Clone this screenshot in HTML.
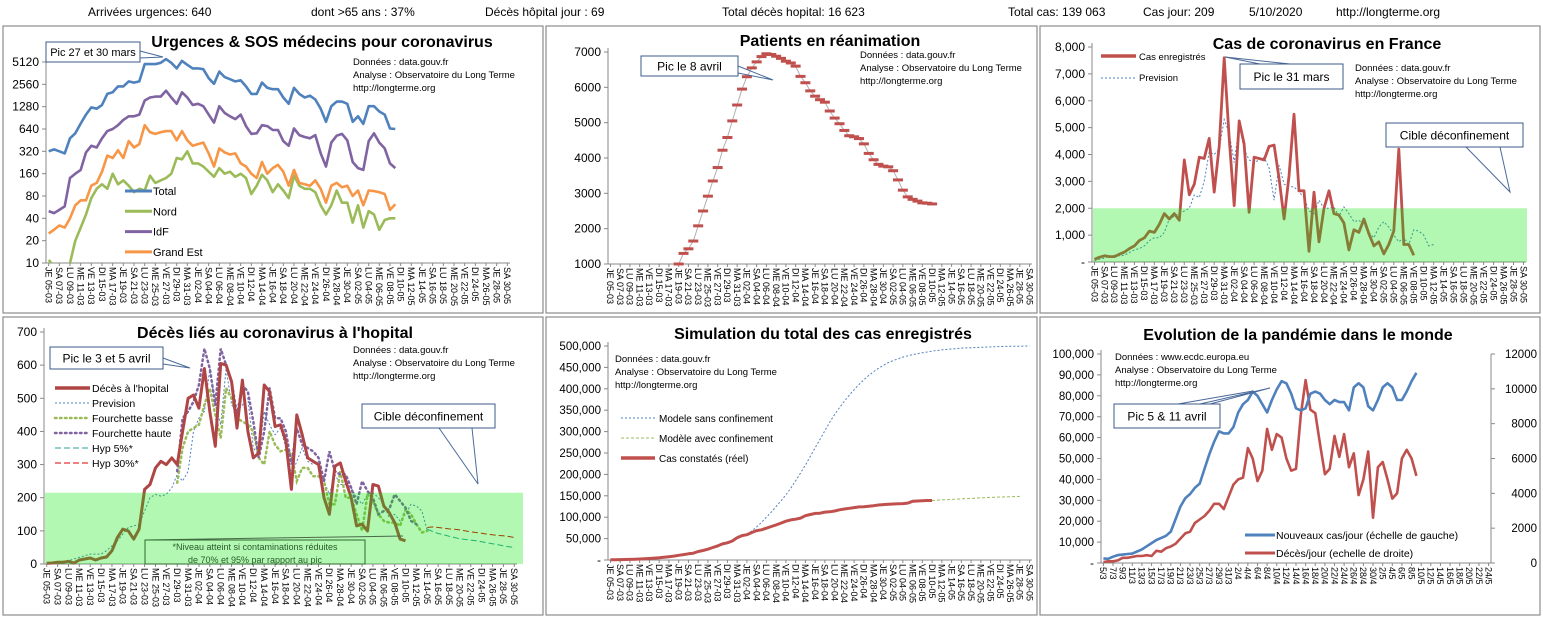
<!DOCTYPE html>
<html><head><meta charset="utf-8">
<style>
html,body{margin:0;padding:0;background:#fff;}
svg{display:block;font-family:"Liberation Sans",sans-serif;}
</style></head>
<body>
<svg id="chart" width="1543" height="621" viewBox="0 0 1543 621" xmlns="http://www.w3.org/2000/svg">
<g font-size="12" fill="#000">
<text x="88" y="16">Arrivées urgences:  640</text>
<text x="311" y="16">dont &gt;65 ans :  37%</text>
<text x="485" y="16">Décès hôpital jour :  69</text>
<text x="722" y="16">Total décès hopital:  16 623</text>
<text x="1008" y="16">Total cas:  139 063</text>
<text x="1143" y="16">Cas jour:  209</text>
<text x="1249" y="16">5/10/2020</text>
<text x="1336" y="16">http://longterme.org</text>
</g>
</svg>
<script>
// ---------- DATA ----------
const urgTotal=[320,340,320,300,480,560,760,1000,1250,1200,1350,1900,2000,2400,2400,2800,2700,2800,4800,4800,4800,5000,5600,5000,4200,5300,4700,4200,4200,4100,3100,2600,3800,3200,3000,2800,2900,2400,1900,1900,2700,2300,2200,2200,1700,1400,2300,1900,1700,1800,1600,1200,800,1300,1500,1500,1400,800,950,750,1300,1300,1100,1000,650,640];
const urgIdf=[50,47,52,58,140,160,180,310,380,360,480,600,640,720,850,950,950,1000,1550,1700,1750,1750,2100,1700,1400,2000,1700,1350,1400,1300,1000,780,1300,1050,950,870,1000,700,550,560,720,700,620,620,440,380,650,530,500,480,530,300,200,420,520,550,450,230,190,180,440,560,420,350,220,190];
const urgGrandEst=[25,28,32,30,40,60,70,70,110,120,170,280,260,330,260,440,360,400,720,580,550,580,600,600,450,600,450,380,400,420,300,200,350,310,290,300,220,200,160,140,230,160,190,210,170,110,180,120,115,110,130,100,65,110,120,105,110,80,95,60,95,93,90,85,52,62];
const urgNord=[11,9,5,3,10,20,30,45,75,100,115,100,160,115,130,110,90,100,95,150,120,130,140,160,260,250,320,220,220,200,170,145,190,160,170,145,160,140,85,110,155,130,90,115,95,75,150,110,100,100,90,60,45,60,95,65,65,35,60,30,50,45,28,38,40,40];
const urgTicks=[10,20,40,80,160,320,640,1280,2560,5120];

const reaStart=14;
const reaValues=[1000,1300,1430,1650,2080,2500,2920,3350,3730,4220,4580,5050,5500,5950,6300,6550,6720,6870,6950,6930,6880,6820,6740,6690,6600,6310,6130,5900,5750,5650,5580,5330,5130,4970,4780,4630,4600,4550,4400,4130,3950,3820,3770,3750,3640,3380,3090,2900,2830,2780,2730,2720,2700];
const reaTicks=[1000,2000,3000,4000,5000,6000,7000];

const casValues=[100,180,230,200,200,290,370,500,600,800,900,1150,1100,1400,1800,1600,1800,1550,3800,2500,2900,3900,3850,4600,2600,4300,7600,4600,2100,5250,4400,1850,3900,3850,3800,4300,4350,3100,1600,3200,5500,2650,2650,400,2600,750,2000,2650,1800,1750,1450,450,1200,1100,1600,1050,600,750,300,650,1150,4200,650,650,250];
const casPrevision=[50,100,150,200,250,230,250,350,450,500,600,800,900,900,1100,1600,1700,1800,1900,2000,2500,2400,3000,4100,4000,4200,5300,4800,3700,5100,4200,3800,3700,3800,3900,3500,2300,3600,2900,2800,2800,2600,2400,1900,1800,2300,2000,2000,2050,1700,2050,1800,1500,1550,1400,1100,900,1300,1500,1300,1000,750,900,650,1200,1150,1000,600,650];
const casTicks=[0,1000,2000,3000,4000,5000,6000,7000,8000];
const casTarget=[2000];

const decesValues=[2,3,5,5,8,3,12,15,18,12,18,21,40,80,105,100,75,105,225,240,290,310,300,320,300,400,500,510,470,590,460,355,605,600,550,410,555,400,320,335,540,520,415,420,370,225,450,390,320,310,300,200,150,295,305,250,200,115,120,100,240,235,175,155,125,75,70];
const decesPrevision=[0,3,5,8,10,15,20,25,30,30,30,40,55,70,90,110,115,120,160,200,210,205,210,230,270,250,280,400,440,460,590,480,420,590,480,460,480,500,350,330,460,420,390,410,350,270,310,350,310,300,310,250,210,270,240,240,230,200,180,210,215,200,180,140,150,130,150,180,175,160,100];
const fourchetteStart=24;
const fourchetteBasse=[245,350,400,410,420,480,530,450,380,530,500,440,430,420,400,320,300,400,360,340,345,330,250,290,290,265,265,250,180,180,280,200,200,150,100,210,190,150,130,125,125,115,165,150,120,95,100];
const fourchetteHaute=[280,440,460,490,540,650,590,480,650,600,550,450,540,520,430,320,400,530,440,440,400,300,410,360,350,340,320,250,340,280,270,270,230,180,250,220,200,150,160,165,210,190,170,130,120];
const hypStart=70;
const hyp5=[105,98,92,88,84,80,76,74,72,70,67,64,61,58,55,52,50];
const hyp30=[110,112,110,108,106,105,103,100,97,95,93,90,88,86,85,83,80];
const decesTicks=[0,100,200,300,400,500,600,700];
const decesTarget=[215];

const simReel=[400,600,900,1200,1400,1800,2300,2900,3600,4500,5400,6600,7700,9100,10900,12600,14500,16000,19900,22300,25200,29100,32900,37600,40200,44500,52100,56900,59100,64300,68600,70500,74400,78200,82000,86300,90600,93800,95400,98000,103600,106200,108800,109300,111800,112700,114600,117300,119200,120800,122500,124100,124600,125800,126800,128400,129500,130100,130900,131200,131800,132900,137200,137800,138400,139000,139100];
const simSansStart=28;
const simSans=[60000,68000,77000,88000,100000,112000,125000,138000,152000,168000,185000,203000,222000,242000,262000,282000,302000,322000,340000,356000,371000,385000,398000,410000,421000,431000,440000,448000,455000,461000,466000,470000,474000,477000,480000,482000,484000,486000,488000,489500,491000,492000,493000,494000,495000,495500,496000,496500,497000,497500,498000,498300,498600,499000,499200,499400,499600,499800,499900];
const simAvecStart=66;
const simAvec=[139100,139800,140500,141000,141600,142200,142800,143400,144000,144600,145200,145700,146200,146700,147100,147500,147900,148200,148500];
const simTicks=[0,50000,100000,150000,200000,250000,300000,350000,400000,450000,500000];

const mondeCas=[2200,2000,3000,3800,4000,4300,4500,5500,6500,8000,9500,11000,12000,13000,15000,21000,27000,31000,33000,36000,38000,45000,52000,58000,63000,62000,62000,65000,72000,76000,78000,82000,80000,76000,72000,78000,83000,87000,86000,81000,74000,73000,74000,81000,82000,81000,78000,76000,78000,77000,77000,73000,84000,86000,84000,75000,73000,78000,84000,86000,84000,78000,78000,82000,87000,91000];
const mondeDeces=[60,100,100,150,300,300,350,400,400,450,400,700,650,850,950,1100,1400,1700,1800,2300,2500,2700,3000,3400,3400,3100,3800,4500,4800,4900,6600,6000,4700,5300,7700,6500,7400,7200,6000,5300,5400,8500,10500,8800,8600,6800,5100,5400,7300,6100,7400,5500,6300,3900,4800,6400,2600,5500,5800,4800,3700,4000,6000,6500,6000,5000];
const mondeLeftTicks=[0,10000,20000,30000,40000,50000,60000,70000,80000,90000,100000];
const mondeRightTicks=[0,2000,4000,6000,8000,10000,12000];

// ---------- HELPERS ----------
const NS='http://www.w3.org/2000/svg';
const S=document.getElementById('chart');
function mk(tag,attrs,name,parent){
  const e=document.createElementNS(NS,tag);
  for(const k in attrs) e.setAttribute(k,attrs[k]);
  
  
  (parent||S).appendChild(e);
  return e;
}
function txt(x,y,s,attrs,name,parent){
  const e=mk('text',Object.assign({x:x,y:y},attrs||{}),name,parent);
  e.textContent=s;
  return e;
}
const DAYS=['JE','VE','SA','DI','LU','MA','ME'];
function dateLabel(i){
  const d=new Date(2020,2,5+i);
  const dd=String(d.getDate()).padStart(2,'0'), mm=String(d.getMonth()+1).padStart(2,'0');
  return DAYS[i%7]+' '+dd+'-'+mm;
}
function shortLabel(i){const d=new Date(2020,2,5+i);return d.getDate()+'/'+(d.getMonth()+1);}
function fmt(v){return v===0?'-':v.toLocaleString('en-US');}
function X(c,i){return c.x0+(i+0.5)*(c.x1-c.x0)/c.n;}
function Y(c,v){return c.log? c.yb-Math.log2(v/c.min)/Math.log2(c.max/c.min)*(c.yb-c.yt) : c.yb-(v-c.min)/(c.max-c.min)*(c.yb-c.yt);}
function pts(c,arr,start,yf){return arr.map((v,k)=>X(c,start+k).toFixed(1)+','+(yf||((v)=>Y(c,v)))(v).toFixed(1)).join(' ');}
function panel(x,y,w,h,name){mk('rect',{x:x,y:y,width:w,height:h,fill:'#fff',stroke:'#8c8c8c','stroke-width':1.2},name);}
function axes(c,g,ticks,labelFn,xlabFn,step,tickFont,right){
  mk('line',{x1:c.x0,y1:c.yt-4,x2:c.x0,y2:c.yb,stroke:'#888'},'y-axis-line',g);
  mk('line',{x1:c.x0,y1:c.yb,x2:c.x1,y2:c.yb,stroke:'#888'},'x-axis-line',g);
  ticks.forEach(t=>{const y=Y(c,t);
    mk('line',{x1:c.x0-4,y1:y,x2:c.x0,y2:y,stroke:'#888'},'y-tick',g);
    txt(c.x0-7,y+4,labelFn(t),{'font-size':tickFont||11,'text-anchor':'end'},'y-tick-label',g);});
  for(let i=0;i<c.n;i+=step){const x=X(c,i);
    mk('line',{x1:x,y1:c.yb,x2:x,y2:c.yb+3,stroke:'#888'},'x-tick',g);
    txt(0,0,xlabFn(i),{'font-size':9,transform:'translate('+(x-3.2).toFixed(1)+','+(c.yb+4)+') rotate(90)'},'x-tick-label',g);}
}
function title(x,y,s,g){txt(x,y,s,{'font-size':16,'font-weight':'bold','text-anchor':'middle'},'chart-title',g);}
function credits(x,y,lines,g){lines.forEach((l,k)=>txt(x,y+k*13,l,{'font-size':9.5},'data-source-note',g));}
function callout(bx,by,bw,bh,s,fs,px,py,ax,ay,bx2,by2,g){
  mk('polyline',{points:ax+','+ay+' '+px+','+py+' '+bx2+','+by2,fill:'none',stroke:'#4a6a9a','stroke-width':1},'callout-pointer',g);
  mk('rect',{x:bx,y:by,width:bw,height:bh,fill:'#fff',stroke:'#3c5a8a','stroke-width':1},'callout-box',g);
  txt(bx+bw/2,by+bh/2+fs*0.36,s,{'font-size':fs,'text-anchor':'middle'},'callout-text',g);
}
const BLUE='#4f81bd',RED='#c0504d',GREEN='#9bbb59',PURPLE='#8064a2',ORANGE='#f79646';
const BAND='rgba(0,230,0,0.3)';
const CREDITS=['Données : data.gouv.fr','Analyse : Observatoire du Long Terme','http://longterme.org'];

// ---------- CHART 1: Urgences ----------
panel(3,26,540,287,'panel-urgences');
const g1=mk('g',{},'chart-urgences');
const c1={x0:46,x1:510,yt:62,yb:263,n:87,log:true,min:10,max:5120};
axes(c1,g1,urgTicks,t=>String(t),dateLabel,2,12);
mk('clipPath',{id:'clip1'},'clip-urgences',g1);
mk('rect',{x:c1.x0,y:c1.yt-10,width:c1.x1-c1.x0,height:c1.yb-c1.yt+10},'clip-rect',document.getElementById('clip1'));
[[urgTotal,BLUE,'line-total'],[urgNord,GREEN,'line-nord'],[urgIdf,PURPLE,'line-idf'],[urgGrandEst,ORANGE,'line-grand-est']].forEach(s=>{
  mk('polyline',{points:pts(c1,s[0],0),fill:'none',stroke:s[1],'stroke-width':2.6,'stroke-linejoin':'round','clip-path':'url(#clip1)'},s[2],g1);});
title(322,47,'Urgences & SOS médecins pour coronavirus',g1);
credits(353,65,CREDITS,g1);
[['Total',BLUE],['Nord',GREEN],['IdF',PURPLE],['Grand Est',ORANGE]].forEach((l,k)=>{
  const y=191+k*20.3;
  mk('line',{x1:125,y1:y,x2:152,y2:y,stroke:l[1],'stroke-width':3},'legend-swatch',g1);
  txt(153,y+4,l[0],{'font-size':11},'legend-entry',g1);});
callout(46,42,94,20,'Pic 27 et 30 mars',11,163,57,140,51,140,58,g1);

// ---------- CHART 2: Réanimation ----------
panel(546,26,491,287,'panel-reanimation');
const g2=mk('g',{},'chart-reanimation');
const c2={x0:608,x1:1032,yt:52,yb:264,n:87,min:1000,max:7000};
axes(c2,g2,reaTicks,t=>String(t),dateLabel,2,12);
mk('polyline',{points:pts(c2,reaValues,reaStart),fill:'none',stroke:'#b0b0b0','stroke-width':1},'line-reanimation',g2);
reaValues.forEach((v,k)=>{mk('rect',{x:X(c2,reaStart+k)-5,y:Y(c2,v)-1.5,width:10,height:3,fill:RED},'marker-reanimation',g2);});
title(830,46,'Patients en réanimation',g2);
credits(860,58,CREDITS,g2);
callout(641,56,97,20,'Pic le 8 avril',12,773,80,738,66,738,73,g2);

// ---------- CHART 3: Cas France ----------
panel(1040,26,500,287,'panel-cas-france');
const g3=mk('g',{},'chart-cas-france');
const c3={x0:1092,x1:1526,yt:47,yb:262,n:87,min:0,max:8000};
axes(c3,g3,casTicks,fmt,dateLabel,2,12);
mk('polyline',{points:pts(c3,casPrevision,0),fill:'none',stroke:BLUE,'stroke-width':1,'stroke-dasharray':'2,2'},'line-prevision',g3);
mk('polyline',{points:pts(c3,casValues,0),fill:'none',stroke:RED,'stroke-width':2.8,'stroke-linejoin':'round'},'line-cas-enregistres',g3);
mk('rect',{x:c3.x0+1,y:Y(c3,casTarget[0]),width:c3.x1-c3.x0,height:c3.yb-Y(c3,casTarget[0]),fill:BAND},'target-band',g3);
title(1327,49,'Cas de coronavirus en France',g3);
credits(1355,71,CREDITS,g3);
mk('line',{x1:1101,y1:56,x2:1136,y2:56,stroke:RED,'stroke-width':3.5},'legend-swatch',g3);
txt(1139,60,'Cas enregistrés',{'font-size':9.5},'legend-entry',g3);
mk('line',{x1:1101,y1:78,x2:1136,y2:78,stroke:BLUE,'stroke-width':1,'stroke-dasharray':'2,2'},'legend-swatch',g3);
txt(1139,81,'Prevision',{'font-size':9.5},'legend-entry',g3);
callout(1240,64,103,25,'Pic le 31  mars',12,1225,57,1290,64,1260,64,g3);
callout(1386,123,137,24,'Cible déconfinement',12,1510,192,1466,147,1500,147,g3);

// ---------- CHART 4: Décès ----------
panel(3,317,540,298,'panel-deces');
const g4=mk('g',{},'chart-deces');
const c4={x0:44,x1:517,yt:332,yb:564,n:87,min:0,max:700};
axes(c4,g4,decesTicks,t=>String(t),dateLabel,2,12);
mk('polyline',{points:pts(c4,decesPrevision,0),fill:'none',stroke:BLUE,'stroke-width':1,'stroke-dasharray':'2,2'},'line-prevision',g4);
mk('polyline',{points:pts(c4,fourchetteBasse,fourchetteStart),fill:'none',stroke:GREEN,'stroke-width':2.5,'stroke-dasharray':'1.5,3.5','stroke-linecap':'round'},'line-fourchette-basse',g4);
mk('polyline',{points:pts(c4,fourchetteHaute,fourchetteStart),fill:'none',stroke:PURPLE,'stroke-width':2.5,'stroke-dasharray':'1.5,3.5','stroke-linecap':'round'},'line-fourchette-haute',g4);
mk('polyline',{points:pts(c4,hyp5,hypStart),fill:'none',stroke:'#2aa0a0','stroke-width':1,'stroke-dasharray':'6,3'},'line-hyp-5',g4);
mk('polyline',{points:pts(c4,hyp30,hypStart),fill:'none',stroke:'#e00000','stroke-width':1,'stroke-dasharray':'6,3'},'line-hyp-30',g4);
mk('polyline',{points:pts(c4,decesValues,0),fill:'none',stroke:'#b04545','stroke-width':3,'stroke-linejoin':'round'},'line-deces-hopital',g4);
mk('rect',{x:c4.x0+1,y:Y(c4,decesTarget[0]),width:c4.x1-c4.x0+5,height:c4.yb-Y(c4,decesTarget[0]),fill:BAND},'target-band',g4);
title(275,338,'Décès liés au coronavirus à l\'hopital',g4);
credits(353,353,CREDITS,g4);
[['Décès à l\'hopital','#b04545',3.5,''],['Prevision',BLUE,1,'2,2'],['Fourchette basse',GREEN,2.5,'1.5,3.5'],['Fourchette haute',PURPLE,2.5,'1.5,3.5'],['Hyp 5%*','#2aa0a0',1,'6,3'],['Hyp 30%*','#e00000',1,'6,3']].forEach((l,k)=>{
  const y=388+k*15;
  mk('line',{x1:55,y1:y,x2:90,y2:y,stroke:l[1],'stroke-width':l[2],'stroke-dasharray':l[3]||'none','stroke-linecap':l[3]==='1.5,3.5'?'round':'butt'},'legend-swatch',g4);
  txt(92,y+4,l[0],{'font-size':10.5},'legend-entry',g4);});
callout(50,347,113,22,'Pic le 3 et 5 avril',12,190,368,163,358,163,364,g4);
callout(362,404,133,24,'Cible déconfinement',12,478,484,439,428,472,428,g4);
mk('line',{x1:145,y1:540,x2:403,y2:536,stroke:'#4a6a4a','stroke-width':1},'footnote-pointer',g4);
mk('rect',{x:145,y:540,width:220,height:24,fill:'none',stroke:'#2f6a2f','stroke-width':1},'footnote-box',g4);
txt(255,550,'*Niveau atteint si contaminations réduites',{'font-size':9,'text-anchor':'middle',fill:'#2a5a2a'},'footnote-text',g4);
txt(255,563,'de 70% et 95% par rapport au pic',{'font-size':9,'text-anchor':'middle',fill:'#2a5a2a'},'footnote-text',g4);

// ---------- CHART 5: Simulation ----------
panel(546,317,491,298,'panel-simulation');
const g5=mk('g',{},'chart-simulation');
const c5={x0:608,x1:1032,yt:346,yb:560,n:87,min:0,max:500000};
axes(c5,g5,simTicks,fmt,dateLabel,2,11.5);
mk('polyline',{points:pts(c5,simSans,simSansStart),fill:'none',stroke:BLUE,'stroke-width':1,'stroke-dasharray':'2,2'},'line-modele-sans-confinement',g5);
mk('polyline',{points:pts(c5,simAvec,simAvecStart),fill:'none',stroke:GREEN,'stroke-width':1,'stroke-dasharray':'3,2'},'line-modele-avec-confinement',g5);
mk('polyline',{points:pts(c5,simReel,0),fill:'none',stroke:RED,'stroke-width':3,'stroke-linejoin':'round'},'line-cas-constates',g5);
title(823,339,'Simulation du total des cas enregistrés',g5);
credits(615,362,CREDITS,g5);
[['Modele sans confinement',BLUE,1,'2,2'],['Modèle avec confinement',GREEN,1,'3,2'],['Cas constatés (réel)',RED,3.5,'']].forEach((l,k)=>{
  const y=418+k*20;
  mk('line',{x1:621,y1:y,x2:655,y2:y,stroke:l[1],'stroke-width':l[2],'stroke-dasharray':l[3]||'none'},'legend-swatch',g5);
  txt(659,y+4,l[0],{'font-size':10},'legend-entry',g5);});

// ---------- CHART 6: Monde ----------
panel(1040,317,500,298,'panel-monde');
const g6=mk('g',{},'chart-monde');
const c6={x0:1101,x1:1491,yt:354,yb:563,n:81,min:0,max:100000};
const c6r={x0:1101,x1:1491,yt:354,yb:563,n:81,min:0,max:12000};
axes(c6,g6,mondeLeftTicks,fmt,shortLabel,2,11.5);
mk('line',{x1:c6.x1,y1:c6.yt,x2:c6.x1,y2:c6.yb,stroke:'#888'},'y-axis-right-line',g6);
mondeRightTicks.forEach(t=>{const y=Y(c6r,t);
  mk('line',{x1:c6.x1,y1:y,x2:c6.x1+4,y2:y,stroke:'#888'},'y-right-tick',g6);
  txt(1537,y+4,String(t),{'font-size':11.5,'text-anchor':'end'},'y-right-tick-label',g6);});
mk('polyline',{points:pts(c6r,mondeDeces,0),fill:'none',stroke:RED,'stroke-width':2.6,'stroke-linejoin':'round'},'line-deces-jour',g6);
mk('polyline',{points:pts(c6,mondeCas,0),fill:'none',stroke:BLUE,'stroke-width':2.6,'stroke-linejoin':'round'},'line-nouveaux-cas',g6);
title(1298,340,'Evolution de la pandémie dans le monde',g6);
credits(1115,360,['Données : www.ecdc.europa.eu','Analyse : Observatoire du Long Terme','http://longterme.org'],g6);
mk('line',{x1:1245,y1:535,x2:1275,y2:535,stroke:BLUE,'stroke-width':3},'legend-swatch',g6);
txt(1276,539,'Nouveaux cas/jour  (échelle de gauche)',{'font-size':10.5},'legend-entry',g6);
mk('line',{x1:1245,y1:553,x2:1275,y2:553,stroke:RED,'stroke-width':3},'legend-swatch',g6);
txt(1276,557,'Décès/jour (echelle de droite)',{'font-size':10.5},'legend-entry',g6);
mk('polyline',{points:'1178,404 1253,391',fill:'none',stroke:'#4a6a9a'},'callout-pointer',g6);
callout(1114,404,106,24,'Pic  5 & 11 avril',12,1270,388,1200,404,1210,404,g6);
</script>
</body></html>
